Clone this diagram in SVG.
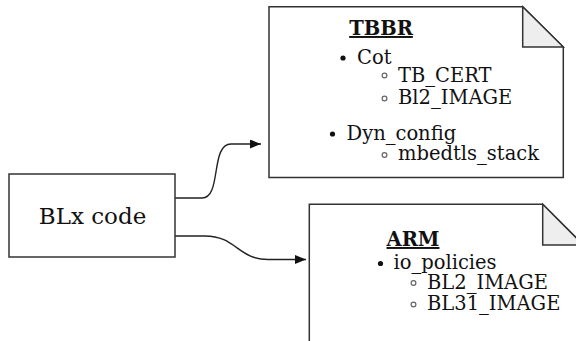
<svg xmlns="http://www.w3.org/2000/svg" width="576" height="341" viewBox="0 0 576 341">
  <style>
    .box { fill: #ffffff; stroke: #333333; stroke-width: 1.5; }
    .fold { fill: #eeeeee; stroke: #333333; stroke-width: 1.5; stroke-linejoin: miter; }
    .t { font-family: "DejaVu Serif", serif; font-size: 19.5px; fill: #111111; }
    .title { font-family: "DejaVu Serif", serif; font-size: 19.5px; font-weight: bold; fill: #111111; text-decoration: underline; text-anchor: middle; }
    .big { font-family: "DejaVu Serif", serif; font-size: 23px; fill: #111111; text-anchor: middle; }
    .dot { fill: #111111; }
    .ring { fill: none; stroke: #666666; stroke-width: 1.2; }
    .edge { fill: none; stroke: #222222; stroke-width: 1.4; }
  </style>
  <defs>
    <marker id="arr" markerWidth="12" markerHeight="10" refX="11" refY="4.5" orient="auto" markerUnits="userSpaceOnUse">
      <path d="M0,0 L11,4.5 L0,9 Z" fill="#111111"/>
    </marker>
  </defs>

  <g id="connectors">
    <path class="edge" d="M175,198 L202,198 C222,198 210,144 231,144 L261,144" marker-end="url(#arr)"/>
    <path class="edge" d="M175,236 L205,236 C236,236 238,259.5 268,259.5 L306,259.5" marker-end="url(#arr)"/>
  </g>

  <g id="blx">
    <rect class="box" x="9" y="174" width="166" height="83"/>
    <text class="big" x="92.5" y="224">BLx code</text>
  </g>

  <g id="tbbr">
    <path class="box" d="M269,6.7 L522.7,6.7 L563.3,47 L563.3,177.5 L269,177.5 Z"/>
    <path class="fold" d="M522.7,6.7 L522.7,47 L563.3,47 Z"/>
    <text class="title" x="381" y="35">TBBR</text>
    <circle class="dot" cx="343" cy="58" r="2.6"/>
    <text class="t" x="357" y="64">Cot</text>
    <circle class="ring" cx="384.5" cy="75.5" r="2.4"/>
    <text class="t" x="398" y="81.5">TB_CERT</text>
    <circle class="ring" cx="384.5" cy="98.5" r="2.4"/>
    <text class="t" x="398" y="104">Bl2_IMAGE</text>
    <circle class="dot" cx="332.5" cy="134" r="2.6"/>
    <text class="t" x="346.5" y="140">Dyn_config</text>
    <circle class="ring" cx="384.5" cy="155" r="2.4"/>
    <text class="t" x="398" y="160">mbedtls_stack</text>
  </g>

  <g id="arm">
    <path class="box" d="M309.3,204.3 L542.7,204.3 L583.3,245 L583.3,346 L309.3,346 Z"/>
    <path class="fold" d="M542.7,204.3 L542.7,245 L583.3,245 Z"/>
    <text class="title" x="413" y="246">ARM</text>
    <circle class="dot" cx="380.5" cy="263.5" r="2.6"/>
    <text class="t" x="393.5" y="269">io_policies</text>
    <circle class="ring" cx="413.5" cy="283" r="2.4"/>
    <text class="t" x="427" y="288.5">BL2_IMAGE</text>
    <circle class="ring" cx="413.5" cy="304.5" r="2.4"/>
    <text class="t" x="427" y="310">BL31_IMAGE</text>
  </g>
</svg>
